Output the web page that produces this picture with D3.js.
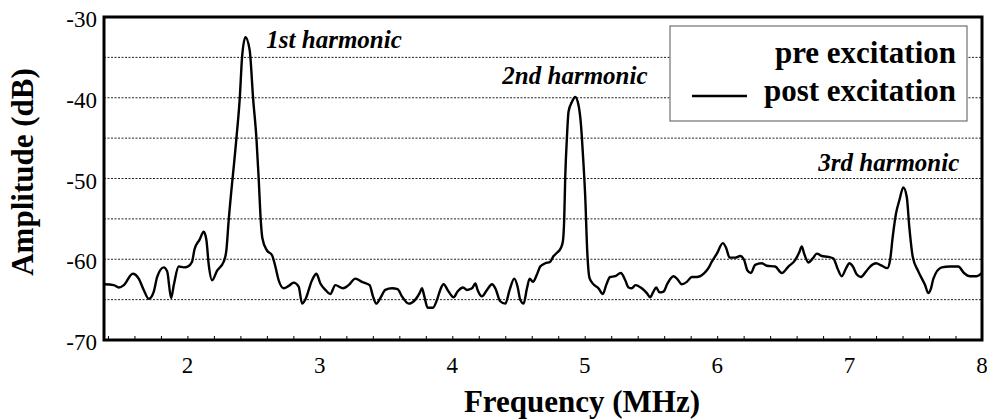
<!DOCTYPE html>
<html>
<head>
<meta charset="utf-8">
<script src="https://cdn.jsdelivr.net/npm/d3@7"></script>
<style>
    body { margin: 0; background: #fff; }
</style>
</head>
<body>
<div id="chartContainer"></div>
<script>
'use strict';

// frequency (MHz) of each traced sample
const freqMHz = [
    1.37, 1.444, 1.482, 1.52, 1.587, 1.632, 1.67, 1.708, 1.746, 1.771, 1.821, 1.847, 1.877, 1.897, 1.934, 1.972,
    2.002, 2.035, 2.053, 2.091, 2.123, 2.143, 2.161, 2.186, 2.224, 2.274, 2.294, 2.31, 2.37, 2.395, 2.413, 2.438,
    2.47, 2.496, 2.521, 2.538, 2.553, 2.566, 2.6, 2.639, 2.664, 2.689, 2.727, 2.765, 2.802, 2.84, 2.866, 2.89,
    2.941, 2.974, 3.004, 3.042, 3.079, 3.117, 3.175, 3.217, 3.268, 3.318, 3.376, 3.401, 3.426, 3.457, 3.494, 3.545,
    3.587, 3.62, 3.67, 3.721, 3.753, 3.771, 3.789, 3.814, 3.854, 3.885, 3.909, 3.934, 3.972, 4.01, 4.04, 4.081,
    4.111, 4.149, 4.174, 4.191, 4.224, 4.262, 4.3, 4.325, 4.362, 4.4, 4.433, 4.468, 4.493, 4.513, 4.538, 4.564,
    4.584, 4.609, 4.639, 4.664, 4.702, 4.74, 4.765, 4.79, 4.82, 4.835, 4.845, 4.853, 4.866, 4.878, 4.904, 4.928,
    4.953, 4.971, 4.986, 5.004, 5.019, 5.036, 5.066, 5.104, 5.137, 5.162, 5.192, 5.23, 5.273, 5.306, 5.331, 5.355,
    5.383, 5.431, 5.469, 5.494, 5.519, 5.54, 5.565, 5.595, 5.625, 5.67, 5.696, 5.733, 5.771, 5.809, 5.847, 5.897,
    5.934, 5.96, 5.998, 6.043, 6.068, 6.094, 6.136, 6.174, 6.204, 6.229, 6.255, 6.287, 6.337, 6.375, 6.438, 6.488,
    6.538, 6.589, 6.621, 6.639, 6.657, 6.689, 6.722, 6.753, 6.79, 6.84, 6.878, 6.908, 6.941, 6.974, 6.999, 7.025,
    7.055, 7.085, 7.125, 7.155, 7.2, 7.243, 7.285, 7.306, 7.326, 7.351, 7.376, 7.406, 7.432, 7.451, 7.477, 7.519,
    7.57, 7.595, 7.613, 7.633, 7.696, 7.758, 7.821, 7.864, 7.909, 7.96, 8.0
];

// amplitude (dB), post excitation
const postExcitation = [
    -63.1, -63.2, -63.5, -63.2, -61.8, -62.4, -63.8, -64.9, -64.0, -62.2, -61.0, -61.5, -64.8, -63.2, -60.9, -61.0,
    -60.9, -60.3, -58.8, -57.6, -56.6, -57.6, -60.7, -62.6, -61.4, -60.3, -58.9, -55.5, -45.0, -40.1, -34.9, -32.5,
    -34.1, -40.1, -45.0, -50.0, -55.0, -57.4, -58.9, -59.5, -60.9, -62.6, -63.6, -63.3, -62.9, -63.4, -65.5, -65.0,
    -62.6, -61.8, -63.0, -63.8, -64.3, -63.2, -63.6, -63.2, -62.4, -62.8, -63.2, -64.6, -65.5, -64.8, -63.8, -63.6,
    -63.7, -64.6, -65.5, -65.0, -64.2, -63.6, -64.6, -66.0, -66.0, -65.0, -63.8, -63.1, -64.0, -64.7, -64.0, -63.5,
    -63.8, -63.6, -63.0, -63.8, -64.6, -63.8, -63.1, -63.6, -65.2, -65.5, -63.8, -62.4, -63.4, -65.0, -65.5, -63.6,
    -62.4, -62.8, -61.9, -60.9, -60.5, -60.3, -59.6, -59.2, -58.6, -57.8, -55.1, -49.8, -44.8, -41.7, -40.5, -39.9,
    -40.9, -43.2, -46.9, -52.3, -59.0, -62.3, -63.1, -63.6, -64.3, -63.2, -62.2, -62.1, -61.7, -62.6, -63.5, -63.6,
    -63.2, -63.6, -64.2, -64.7, -64.0, -63.5, -64.1, -64.0, -63.0, -62.1, -62.4, -63.1, -62.8, -62.2, -62.2, -61.8,
    -61.1, -60.3, -59.3, -58.0, -58.6, -59.8, -59.8, -59.6, -60.1, -61.4, -61.7, -60.7, -60.5, -60.8, -60.9, -61.7,
    -60.9, -60.1, -59.1, -58.4, -59.3, -60.4, -59.9, -59.3, -59.6, -59.7, -59.9, -61.1, -62.1, -61.1, -60.5, -60.9,
    -61.9, -62.2, -61.5, -60.9, -60.5, -60.8, -61.1, -60.1, -57.2, -54.3, -52.7, -51.1, -52.3, -56.0, -59.7, -61.5,
    -63.2, -64.2, -63.7, -62.4, -61.0, -60.9, -60.9, -61.7, -62.1, -62.1, -61.7
];

const xTicks = [2, 3, 4, 5, 6, 7, 8];
const yTicks = [-30, -40, -50, -60, -70];
const gridValues = [-35, -40, -45, -50, -55, -60, -65];

// annotation text, left edge (MHz) and baseline (dB)
const harmonicLabels = ["1st harmonic", "2nd harmonic", "3rd harmonic"];
const harmonicFreq = [2.596, 4.378, 6.764];
const harmonicLevel = [-33.8, -38.3, -49.1];

const legendLabels = ["pre excitation", "post excitation"];

const serifFace = "Liberation Serif";

const drawChart = () => {

    const width = 987, height = 419;
    const left = 104, right = 982, top = 17, bottom = 340;

    const svg = d3.select("#chartContainer")
        .append("svg")
        .attr("width", width)
        .attr("height", height);

    const x = d3.scaleLinear().domain([1.37, 8]).range([left, right]);
    const y = d3.scaleLinear().domain([-70, -30]).range([bottom, top]);

    // dotted horizontal gridlines
    svg.selectAll(".grid")
        .data(gridValues)
        .enter()
        .append("line")
        .attr("class", "grid")
        .attr("x1", left).attr("x2", right)
        .attr("y1", d => y(d)).attr("y2", d => y(d))
        .style("stroke", "#222")
        .style("stroke-width", 1)
        .style("stroke-dasharray", "2,1.5");

    // spectrum
    const data = freqMHz.map((f, i) => ({ f: f, v: postExcitation[i] }));
    const line = d3.line()
        .x(d => x(d.f))
        .y(d => y(d.v))
        .curve(d3.curveMonotoneX);

    svg.append("path")
        .datum(data)
        .attr("d", line)
        .style("fill", "none")
        .style("stroke", "#000")
        .style("stroke-width", 2.4)
        .style("stroke-linejoin", "round");

    // small inward ticks every 0.2 MHz along the bottom
    const minor = d3.axisBottom(x)
        .tickValues(d3.range(1.4, 8.01, 0.2))
        .tickSize(-4)
        .tickFormat("");
    svg.append("g")
        .attr("transform", "translate(0," + bottom + ")")
        .call(minor)
        .call(g => g.select(".domain").remove())
        .call(g => g.selectAll("line").style("stroke", "#000").style("stroke-width", 1));

    // frame
    svg.append("rect")
        .attr("x", left).attr("y", top)
        .attr("width", right - left).attr("height", bottom - top)
        .style("fill", "none")
        .style("stroke", "#000")
        .style("stroke-width", 3);

    // tick labels
    svg.selectAll(".xlab")
        .data(xTicks)
        .enter()
        .append("text")
        .attr("font-family", serifFace)
        .attr("x", d => x(d))
        .attr("y", 373)
        .attr("text-anchor", "middle")
        .attr("font-size", 23)
        .text(d => d);

    svg.selectAll(".ylab")
        .data(yTicks)
        .enter()
        .append("text")
        .attr("font-family", serifFace)
        .attr("x", 97)
        .attr("y", d => y(d) + 10)
        .attr("text-anchor", "end")
        .attr("font-size", 23)
        .text(d => d);

    // axis titles
    svg.append("text")
        .attr("font-family", serifFace)
        .attr("x", 582)
        .attr("y", 412)
        .attr("text-anchor", "middle")
        .attr("font-size", 31)
        .attr("font-weight", "bold")
        .text("Frequency (MHz)");

    svg.append("text")
        .attr("font-family", serifFace)
        .attr("transform", "translate(33,172) rotate(-90)")
        .attr("text-anchor", "middle")
        .attr("font-size", 31)
        .attr("font-weight", "bold")
        .text("Amplitude (dB)");

    // peak annotations
    svg.selectAll(".ann")
        .data(harmonicLabels)
        .enter()
        .append("text")
        .attr("font-family", serifFace)
        .attr("x", (d, i) => x(harmonicFreq[i]))
        .attr("y", (d, i) => y(harmonicLevel[i]))
        .attr("font-size", 25)
        .attr("font-weight", "bold")
        .attr("font-style", "italic")
        .text(d => d);

    // legend
    svg.append("rect")
        .attr("x", 670).attr("y", 26)
        .attr("width", 297).attr("height", 95)
        .style("fill", "#fff")
        .style("stroke", "#555")
        .style("stroke-width", 1);

    svg.selectAll(".leg")
        .data(legendLabels)
        .enter()
        .append("text")
        .attr("font-family", serifFace)
        .attr("x", 956)
        .attr("y", (d, i) => 63 + i * 38)
        .attr("text-anchor", "end")
        .attr("font-size", 31)
        .attr("font-weight", "bold")
        .text(d => d);

    svg.append("line")
        .attr("x1", 692).attr("x2", 747)
        .attr("y1", 96).attr("y2", 96)
        .style("stroke", "#000")
        .style("stroke-width", 2.5);
}

drawChart();
</script>
</body>
</html>
